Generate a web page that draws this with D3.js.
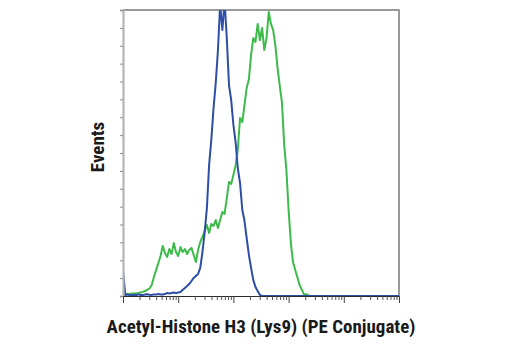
<!DOCTYPE html>
<html>
<head>
<meta charset="utf-8">
<script src="https://cdn.jsdelivr.net/npm/d3@7/dist/d3.min.js"></script>
<style>
  html, body { margin: 0; padding: 0; background: #fff; }
  svg { display: block; }
  .title { font-family: "Liberation Sans Narrow", "Arial Narrow", "Roboto Condensed", sans-serif; font-weight: bold; fill: #1a1a1a; }
</style>
</head>
<body>
<svg id="chart" width="520" height="350"></svg>
<script>
// Fluorescence intensity at the centre of each histogram channel (log-spaced, 25 per decade)
const channels = [
  1.00, 1.10, 1.20, 1.32, 1.45, 1.58, 1.74, 1.91, 2.09, 2.29, 2.51, 2.75, 3.02, 3.31, 3.63, 3.98, 4.37, 4.79, 5.25, 5.75, 6.31, 6.92, 7.59, 8.32, 9.12,
  10.0, 11.0, 12.0, 13.2, 14.5, 15.8, 17.4, 19.1, 20.9, 22.9, 25.1, 27.5, 30.2, 33.1, 36.3, 39.8, 43.7, 47.9, 52.5, 57.5, 63.1, 69.2, 75.9, 83.2, 91.2,
  100, 110, 120, 132, 145, 158, 174, 191, 209, 229, 251, 275, 302, 331, 363, 398, 437, 479, 525, 575, 631, 692, 759, 832, 912,
  1000, 1100, 1200, 1320, 1450, 1580, 1740, 1910, 2090, 2290, 2510,
  100000
];

// Event counts per channel: untreated cells (blue)
const untreatedCounts = [
  14.5, 0.5, 0.8, 0.6, 0.4, 0.7, 0.5, 0.9, 0.6, 0.5, 0.8, 1.0, 0.7, 0.6, 0.9, 0.8, 1.1, 0.9,
  0.8, 1.1, 1.7, 1.4, 1.7, 2.0, 1.7, 2.0, 2.2, 3.4, 4.5, 5.6, 6.7, 8.4, 10.1, 11.2, 12.3,
  15.7, 24.6, 35.8, 49.2, 73.3, 87.3, 105.2, 119.2, 137.6, 163, 148.8, 165, 144.3, 118,
  109.6, 95.7, 85.6, 71.6, 63.2, 48.1, 42.5, 32.4, 22.9, 15.7, 9.0, 5.0, 2.8, 0.6, 0,
  0, 0, 0, 0, 0, 0, 0, 0, 0, 0, 0, 0, 0, 0, 0, 0, 0, 0, 0, 0, 0, 0,
  0
];

// Event counts per channel: treated cells (green)
const treatedCounts = [
  0.6, 1.0, 1.1, 1.1, 1.4, 1.4, 1.5, 1.7, 2.0, 2.3, 2.8, 3.4, 4.2, 6.2, 10.6, 14.5, 18.5, 22.4,
  28.0, 24.1, 21.8, 26.3, 23.5, 29.6, 24.6, 22.4, 27.4, 24.6, 26.3, 23.5, 25.7, 26.9, 22.9,
  19.0, 25.7, 30.2, 33.0, 36.4, 39.7, 35.2, 40.3, 39.2, 42.5, 38.0, 42.5, 47.0, 45.9, 54.8,
  63.8, 62.7, 67.7, 73.3, 81.7, 99.6, 97.3, 106.3, 116.4, 121.4, 134.8, 144.3, 142.1, 152.2,
  143.2, 149.9, 137.6, 144.3, 158.9, 152.2, 148.8, 140.4, 127.5, 117.5, 108.0, 84.5, 70.5,
  48.1, 29.6, 19.0, 14.5, 10.2, 6.2, 3.4, 0.8, 1.0, 0.3, 0,
  0
];

const yTicks = [0, 10, 20, 30, 40, 50, 60, 70, 80, 90, 100, 110, 120, 130, 140, 150, 160];
const xDecades = [1, 10, 100, 1000, 10000, 100000];

const seriesColors = { untreated: "#2e4ea5", treated: "#3dbb4a" };

const xLabel = "Acetyl-Histone H3 (Lys9) (PE Conjugate)";
const yLabel = "Events";

const svg = d3.select("#chart");
const plot = { left: 123, right: 399, top: 10, bottom: 296 };

const x = d3.scaleLog().domain([1, 100000]).range([plot.left, plot.right]);
const y = d3.scaleLinear().domain([0, 160]).range([plot.bottom, plot.top]);

svg.append("defs").append("clipPath").attr("id", "plot-clip")
  .append("rect")
  .attr("x", plot.left).attr("y", plot.top)
  .attr("width", plot.right - plot.left).attr("height", plot.bottom - plot.top);

// frame: top and right edges
svg.append("path")
  .attr("d", `M${plot.left},${plot.top}H${plot.right}V${plot.bottom}`)
  .attr("fill", "none").attr("stroke", "#7a7a7a").attr("stroke-width", 1.5);

// histogram traces
const line = d3.line()
  .x((d, i) => x(channels[i]))
  .y(d => y(d))
  .curve(d3.curveLinear);

const traces = svg.append("g").attr("clip-path", "url(#plot-clip)");
traces.append("path").datum(treatedCounts)
  .attr("d", line).attr("fill", "none")
  .attr("stroke", seriesColors.treated).attr("stroke-width", 2).attr("stroke-linejoin", "round");
traces.append("path").datum(untreatedCounts)
  .attr("d", line).attr("fill", "none")
  .attr("stroke", seriesColors.untreated).attr("stroke-width", 2).attr("stroke-linejoin", "round");

// left axis: light grey line with short outward ticks
const yAxis = svg.append("g")
  .attr("transform", `translate(${plot.left},0)`)
  .call(d3.axisLeft(y).tickValues(yTicks).tickSize(3).tickFormat(""));
yAxis.select(".domain").attr("stroke", "#b5b5b5").attr("stroke-width", 2.2);
yAxis.selectAll(".tick line").attr("stroke", "#8a8a8a").attr("stroke-width", 1);

// bottom axis: log decades with minor ticks
const minorTicks = x.ticks().filter(v => !xDecades.includes(v));
const xAxisMinor = svg.append("g")
  .attr("transform", `translate(0,${plot.bottom})`)
  .call(d3.axisBottom(x).tickValues(minorTicks).tickSize(4).tickSizeOuter(0).tickFormat(""));
xAxisMinor.select(".domain").attr("stroke", "#2a2a2a").attr("stroke-width", 1.2);
xAxisMinor.selectAll(".tick line").attr("stroke", "#444").attr("stroke-width", 0.9);

const xAxisMajor = svg.append("g")
  .attr("transform", `translate(0,${plot.bottom})`)
  .call(d3.axisBottom(x).tickValues(xDecades).tickSize(7).tickSizeOuter(0).tickFormat(""));
xAxisMajor.select(".domain").remove();
xAxisMajor.selectAll(".tick line").attr("stroke", "#444").attr("stroke-width", 1);

// axis titles
svg.append("text").attr("class", "title")
  .attr("x", 261).attr("y", 333)
  .attr("text-anchor", "middle").attr("font-size", 19)
  .text(xLabel);

svg.append("text").attr("class", "title")
  .attr("transform", `translate(104,147) rotate(-90)`)
  .attr("text-anchor", "middle").attr("font-size", 19)
  .text(yLabel);
</script>
</body>
</html>
